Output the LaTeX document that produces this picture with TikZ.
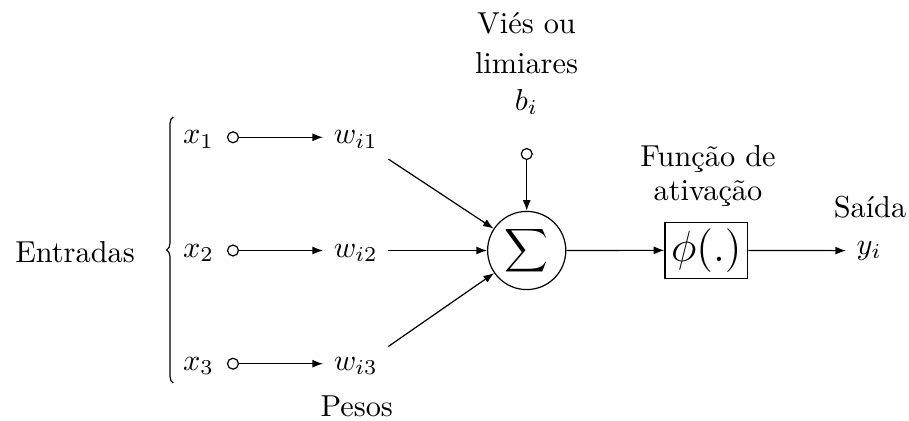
\documentclass[tikz,border=0pt]{standalone}
\usetikzlibrary{arrows.meta,decorations.pathreplacing}
\begin{document}
\begin{tikzpicture}[x=0.33pt,y=-0.33pt,
  arr/.style={-{Latex[length=3.5pt,width=2.6pt]}},
  dot/.style={circle,draw,minimum size=3.6pt,inner sep=0pt},
  lbl/.style={inner sep=0pt,align=center},
  var/.style={anchor=mid}]
\useasboundingbox (0,0) rectangle (909,421);
% inputs
\node[lbl,anchor=base] (ent) at (75,263) {Entradas};
\coordinate (bbot) at (173.3,383);
\coordinate (btop) at (173.3,117);
\draw[decorate,decoration={brace,amplitude=2.2pt}] (bbot) -- (btop);
\foreach \k/\y in {1/137.3,2/250.5,3/363.7}{
  \node[var] (x\k) at (198.5,\y) {$x_\k$};
  \node[dot] (c\k) at (233,\y) {};
  \node[var] (w\k) at (355.7,\y) {$w_{i\k}$};
  \draw[arr] (c\k) -- (c\k -| w\k.west);
}
\node[lbl,anchor=base] (pesos) at (356.7,416.7) {Pesos};
% summation
\node[circle,draw,minimum size=25.8pt,inner sep=0pt] (sum) at (526.7,250.5) {$\displaystyle\sum$};
\draw[arr] (w1.south east) -- (sum);
\draw[arr] (sum.west -| w2.east) -- (sum.west);
\draw[arr] (w3.north east) -- (sum);
% bias
\node[dot] (bias) at (526.7,154) {};
\draw[arr] (bias) -- (sum.north);
\node[lbl,anchor=north] (biastxt) at (526.5,12) {Viés ou\\[1pt]limiares\\[0.3pt]$b_i$};
% activation
\node[draw,minimum width=27.3pt,minimum height=18.5pt,inner sep=1pt] (phi) at (706.3,250.3) {\Large$\phi(.)$};
\node[lbl,anchor=north] (acttxt) at (708,144.5) {Função de\\[-0.7pt]ativação};
\draw[arr] (sum) -- (phi);
% output
\node[anchor=west] (y) at (846,250.7) {$y_i$};
\draw[arr] (phi) -- (y);
\node[lbl,anchor=base] (said) at (870,218) {Saída};
\end{tikzpicture}
\end{document}
